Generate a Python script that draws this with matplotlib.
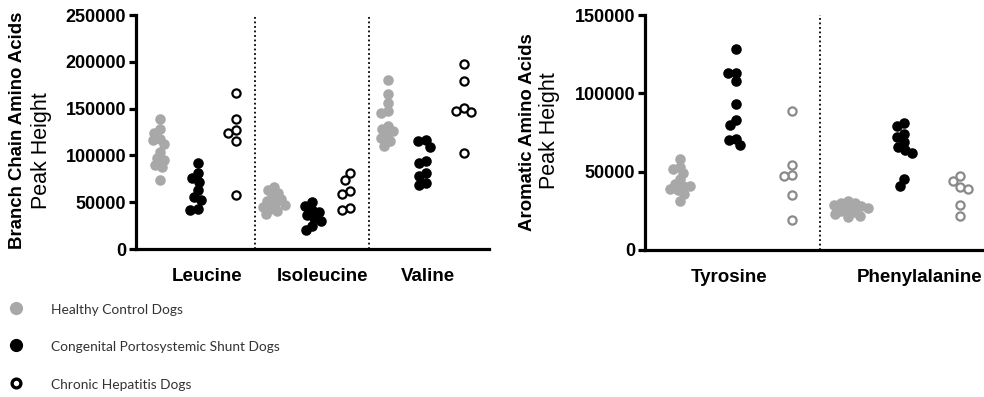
import numpy as np
import matplotlib.pyplot as plt
from matplotlib.lines import Line2D

# ---- data (peak heights) ----
bcaa_names = ["Leucine", "Isoleucine", "Valine"]
leu_healthy = [139000, 128000, 124000, 118000, 116000, 112000, 104000, 97000, 95000, 90000, 88000, 74000]
leu_cpss = [92000, 81000, 76000, 72000, 63000, 56000, 52000, 43000, 42000]
leu_ch = [167000, 139000, 127000, 124000, 115000, 58000]

ile_healthy = [66000, 63000, 60000, 56000, 53000, 51000, 49000, 47000, 45000, 43000, 41000, 37000]
ile_cpss = [50000, 46000, 42000, 39000, 36000, 33000, 30000, 25000, 20000]
ile_ch = [81000, 74000, 62000, 59000, 44000, 42000]

val_healthy = [181000, 166000, 156000, 147000, 145000, 131000, 128000, 126000, 122000, 119000, 115000, 110000]
val_cpss = [116000, 115000, 109000, 94000, 92000, 81000, 78000, 71000, 68000]
val_ch = [198000, 180000, 151000, 147000, 146000, 103000]

aaa_names = ["Tyrosine", "Phenylalanine"]
tyr_healthy = [58000, 53000, 52000, 49000, 45000, 42000, 41000, 41000, 39000, 38000, 36000, 31000]
tyr_cpss = [128000, 113000, 113000, 108000, 93000, 83000, 80000, 71000, 70000, 67000]
tyr_ch = [89000, 54000, 48000, 47000, 35000, 19000]

phe_healthy = [31000, 30000, 30000, 29000, 28000, 27000, 26000, 25000, 24000, 23000, 22000, 21000]
phe_cpss = [81000, 79000, 74000, 72000, 69000, 66000, 64000, 62000, 45000, 41000]
phe_ch = [47000, 44000, 40000, 39000, 29000, 22000]

legend_labels = ["Healthy Control Dogs", "Congenital Portosystemic Shunt Dogs", "Chronic Hepatitis Dogs"]

GRAY = "#a8a8a8"
DARKGRAY = "#8a8a8a"


def swarm(ax, xc, values, diam):
    """simple beeswarm: returns x positions (data units) so points don't overlap much"""
    vals = np.asarray(values, float)
    pts = ax.transData.transform(np.column_stack([np.full(len(vals), xc), vals]))
    py = pts[:, 1]
    px0 = pts[0, 0]
    placed = []
    xs = np.zeros(len(vals))
    for i in np.argsort(-vals):
        cands = [0.0]
        blocks = []
        for (xj, yj) in placed:
            dy = abs(py[i] - yj)
            if dy < diam:
                w = np.sqrt(diam ** 2 - dy ** 2)
                blocks.append((xj - w, xj + w))
                cands += [xj - w, xj + w]
        cands.sort(key=lambda c: (abs(c), c))
        for c in cands:
            if all(not (lo + 1e-6 < c < hi - 1e-6) for lo, hi in blocks):
                xs[i] = c
                break
        placed.append((xs[i], py[i]))
    xd = ax.transData.inverted().transform(np.column_stack([px0 + xs, py]))[:, 0]
    return xd


def style_axis(ax, ymax, step):
    for s in ["top", "right"]:
        ax.spines[s].set_visible(False)
    for s in ["left", "bottom"]:
        ax.spines[s].set_linewidth(2.3)
    ax.set_ylim(0, ymax)
    ax.set_yticks(np.arange(0, ymax + 1, step))
    ax.set_yticklabels([str(int(v)) for v in np.arange(0, ymax + 1, step)])
    ax.tick_params(axis="y", length=5, width=2.3, labelsize=13, pad=2)
    ax.tick_params(axis="x", length=0, labelbottom=False)
    for t in ax.get_yticklabels():
        t.set_fontweight("bold")


def draw_groups(ax, groups, open_edge):
    for k, (h, c, o) in enumerate(groups):
        x0 = 3 * k
        ax.plot(swarm(ax, x0, h, 7), h, "o", ms=7.6, color=GRAY, mec="none")
        ax.plot(swarm(ax, x0 + 1, c, 7.5), c, "o", ms=7.6, color="black", mec="none")
        ax.plot(swarm(ax, x0 + 2, o, 8.5), o, "o", ms=5.9, mfc="white", mec=open_edge, mew=1.6)
        if k < len(groups) - 1:
            ax.axvline(x0 + 2.5, color="black", ls=(0, (1, 1.5)), lw=1.3)


plt.rcParams["font.family"] = ["Liberation Sans", "DejaVu Sans"]
fig = plt.figure(figsize=(9.84, 3.97), dpi=100)

# left panel: branch chain amino acids
ax1 = fig.add_axes([136 / 984, 1 - 249 / 397, 353 / 984, 234 / 397])
ax1.set_xlim(-0.63, 8.66)
style_axis(ax1, 250000, 50000)
draw_groups(ax1, [(leu_healthy, leu_cpss, leu_ch),
                  (ile_healthy, ile_cpss, ile_ch),
                  (val_healthy, val_cpss, val_ch)], "black")
for pos, name in zip([1.24, 4.29, 7.06], bcaa_names):
    ax1.text(pos, -0.118, name, transform=ax1.get_xaxis_transform(), ha="center", va="center",
             fontsize=13.5, fontweight="bold")

# right panel: aromatic amino acids
ax2 = fig.add_axes([645 / 984, 1 - 250 / 397, 345 / 984, 235 / 397])
ax2.set_xlim(-0.625, 5.54)
style_axis(ax2, 150000, 50000)
draw_groups(ax2, [(tyr_healthy, tyr_cpss, tyr_ch),
                  (phe_healthy, phe_cpss, phe_ch)], DARKGRAY)
ax2.text(0.875, -0.118, aaa_names[0], transform=ax2.get_xaxis_transform(), ha="center", va="center",
         fontsize=13.5, fontweight="bold")
fig.text(982 / 984, 1 - 277 / 397, aaa_names[1], ha="right", va="center",
         fontsize=13.5, fontweight="bold")

# y-axis titles (bold line + regular line)
fig.text(18 / 984, 1 - 130 / 397, "Branch Chain Amino Acids", rotation=90, ha="center", va="center",
         fontsize=13.4, fontweight="bold")
fig.text(42 / 984, 1 - 151 / 397, "Peak Height", rotation=90, ha="center", va="center", fontsize=15.5)
fig.text(527 / 984, 1 - 132 / 397, "Aromatic Amino Acids", rotation=90, ha="center", va="center",
         fontsize=13.4, fontweight="bold")
fig.text(550 / 984, 1 - 131 / 397, "Peak Height", rotation=90, ha="center", va="center", fontsize=15.5)

# legend drawn by hand at the bottom left
leg_y = [308, 345, 383]
leg_styles = [dict(ms=9.5, color=GRAY, mec="none"),
              dict(ms=9.5, color="black", mec="none"),
              dict(ms=6.3, mfc="white", mec="black", mew=2.4)]
for y, lab, st in zip(leg_y, legend_labels, leg_styles):
    fig.add_artist(Line2D([16 / 984], [1 - y / 397], marker="o", ls="none", transform=fig.transFigure, **st))
    fig.text(51 / 984, 1 - (y + 2) / 397, lab, ha="left", va="center", fontsize=9.9,
             family=["Lato", "DejaVu Sans"], color="#333333")

fig.savefig("out.png", dpi=100)
